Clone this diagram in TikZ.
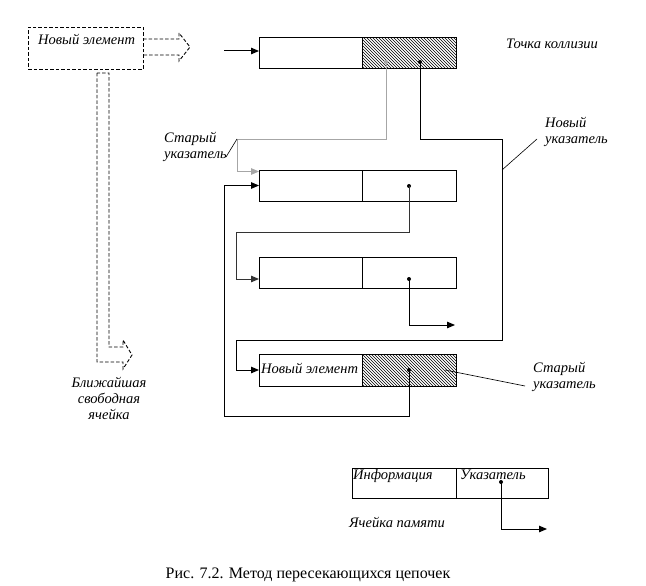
\documentclass[tikz,border=0pt]{standalone}
\usepackage{fontspec}
\setmainfont{Liberation Serif}
\usetikzlibrary{arrows.meta,patterns}
\begin{document}
\begin{tikzpicture}[x=1pt,y=-1pt,
  cellbox/.style={draw, line width=1pt, inner sep=0pt, outer sep=0pt, anchor=north west, minimum height=31pt},
  hatch/.style={pattern=north west lines},
  lbl/.style={font=\itshape\fontsize{14.5}{16}\selectfont, inner sep=0pt, align=left},
  link/.style={line width=1pt},
  tip/.style={-{Triangle[length=8pt,width=6.5pt]}},
  dot/.style={circle, fill, inner sep=0pt, minimum size=4pt},
  dsh/.style={line width=0.9pt, dash pattern=on 3.5pt off 2pt},
  lead/.style={line width=0.6pt}]
\useasboundingbox (0,0) rectangle (646,586);

% new element dashed box and hollow arrows
\node[draw, dsh, anchor=north west, minimum width=115pt, minimum height=42pt, inner sep=0pt] (nb) at (28,27) {};
\node[lbl, anchor=base west] (nbt) at (38,45) {Новый элемент};
\draw[dsh] (143,39) -- (179,39) -- (179,33) -- (190,47) -- (179,61) -- (179,55) -- (143,55);
\draw[dsh] (97,73) -- (97,362) -- (123,362) -- (123,369) -- (132,355) -- (123,340) -- (123,347) -- (109,347) -- (109,73) -- cycle;
\node[lbl, align=center, anchor=north] (near) at (109,377) {Ближайшая\\свободная\\ячейка};

% records
\node[cellbox, minimum width=103pt] (b1l) at (259,38) {};
\node[cellbox, hatch, minimum width=94pt] (b1r) at (362,38) {};
\node[cellbox, minimum width=103pt] (b2l) at (259,170) {};
\node[cellbox, minimum width=94pt] (b2r) at (362,170) {};
\node[cellbox, minimum width=103pt] (b3l) at (259,257) {};
\node[cellbox, minimum width=94pt] (b3r) at (362,257) {};
\node[cellbox, minimum width=103pt, minimum height=32pt] (b4l) at (259,354) {};
\node[cellbox, hatch, minimum width=94pt, minimum height=32pt] (b4r) at (362,354) {};
\node[lbl, anchor=base west] (b4t) at (261,373) {Новый элемент};

% dots
\node[dot, fill=gray!70] (d1g) at (386,62) {};
\node[dot] (d1) at (420,62) {};
\node[dot] (d2) at (409,186) {};
\node[dot] (d3) at (409,279) {};
\node[dot] (d4) at (409,370) {};

% input arrow
\coordinate (in) at (224,51);
\draw[link, tip] (in) -- (259,51);

% old pointer (gray)
\draw[link, gray!70, tip] (d1g.center) -- (386,139) -- (237,139) -- (237,171.5) -- (259,171.5);
% new pointer
\draw[link, tip] (d1.center) -- (420,139) -- (502,139) -- (502,340) -- (236,340) |- (b4l.west);
% chain
\draw[link, black!80, tip] (d2.center) -- (409,232) -- (236,232) -- (236,279) -- (259,279);
\draw[link, tip] (d3.center) -- (409,325) -- (455,325);
\draw[link, tip] (d4.center) -- (409,416) -- (224,416) |- (b2l.west);

% labels
\node[lbl, anchor=base] (tk) at (552,49) {Точка коллизии};
\node[lbl, anchor=north west] (np) at (545,117) {Новый\\указатель};
\draw[lead] (502,170) -- (537,139);
\node[lbl, anchor=north west] (op1) at (164,132) {Старый\\указатель};
\draw[lead] (237,139) -- (226,157);
\node[lbl, anchor=north west] (op2) at (533,362) {Старый\\указатель};
\draw[lead] (445,370) -- (525,386);

% legend
\node[cellbox, minimum width=104pt, minimum height=30pt] (ll) at (352,468) {};
\node[cellbox, minimum width=92pt, minimum height=30pt] (lr) at (456,468) {};
\node[lbl, anchor=base west] (li) at (353,479) {Информация};
\node[lbl, anchor=base west] (lu) at (460,479) {Указатель};
\node[dot] (ld) at (501,482) {};
\draw[link, tip] (ld.center) -- (501,529) -- (547,529);
\node[lbl, anchor=base west] (lm) at (349,527) {Ячейка памяти};

% caption
\node[font=\fontsize{16}{18}\selectfont, inner sep=0pt, anchor=base] (cap) at (308,578) {Рис. 7.2. Метод пересекающихся цепочек};
\end{tikzpicture}
\end{document}
